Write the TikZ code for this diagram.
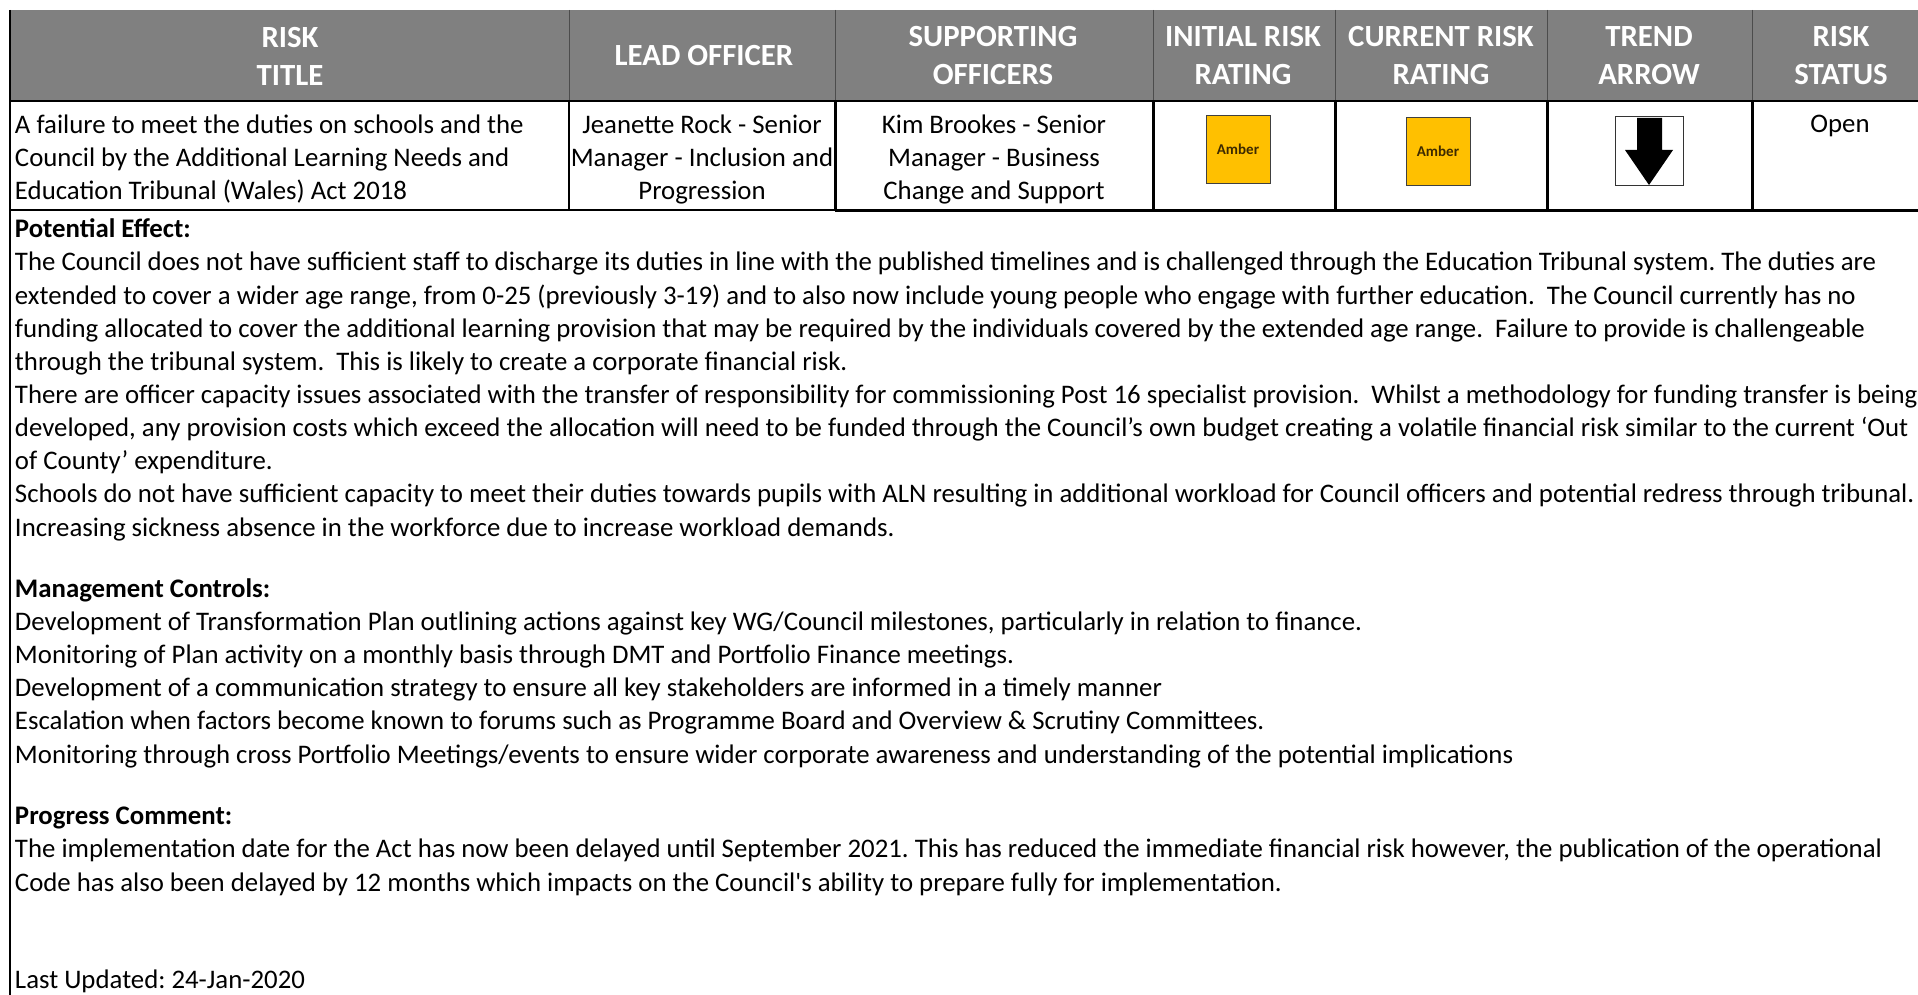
\documentclass[tikz,border=0pt]{standalone}
\usepackage{fontspec}
\setmainfont{Carlito}
\frenchspacing
\definecolor{hdrgray}{HTML}{808080}
\definecolor{amber}{HTML}{FFC000}
\definecolor{amberink}{HTML}{3D2A00}

\begin{document}
\begin{tikzpicture}[
    x=0.5pt, y=-0.5pt,
    every node/.style={inner sep=0pt, outer sep=0pt},
    hdr/.style={text=white, font=\fontsize{15.4}{19}\selectfont\bfseries, align=center},
    cell/.style={font=\fontsize{13.4}{16.57}\selectfont, anchor=base, align=center},
    bodytext/.style={font=\fontsize{13.4}{16.57}\selectfont, align=left, anchor=base west},
    rating/.style={draw=black!75, line width=0.5pt, fill=amber, minimum width=32pt, minimum height=34pt, font=\fontsize{7.5}{8}\selectfont\bfseries, text=amberink},
    thinrule/.style={line width=0.8pt},
    thickrule/.style={line width=1.5pt}
]
\useasboundingbox (0,0) rectangle (1918,995);
\fill[white] (0,0) rectangle (1918,995);

% Header band
\fill[hdrgray] (10,10) rectangle (1918,100);
\foreach \x in {569,835,1153,1335,1547,1752}
    \draw[line width=0.5pt, black!70] (\x,10) -- (\x,100);

% Header nodes
\node[hdr] (hTitle) at (290,56) {RISK\\TITLE};
\node[hdr] (hLead) at (704,56) {LEAD OFFICER};
\node[hdr] (hSupp) at (993,56) {SUPPORTING\\OFFICERS};
\node[hdr] (hInit) at (1243,56) {INITIAL RISK\\RATING};
\node[hdr] (hCurr) at (1441,56) {CURRENT RISK\\RATING};
\node[hdr] (hTrend) at (1649,56) {TREND\\ARROW};
\node[hdr] (hStatus) at (1841,56) {RISK\\STATUS};

% Row rules
\draw[line width=1.2pt] (10,101) -- (1918,101);
\draw[thinrule] (569,101) -- (569,210);
\foreach \x in {835,1153,1335,1547,1752}
    \draw[thickrule] (\x,101) -- (\x,210);
\draw[line width=1pt] (10,210) -- (835,210);
\draw[thickrule] (835,210) -- (1918,210);
\draw[thinrule] (10,10) -- (10,995);

% Row nodes (base = last line)
\node[cell, anchor=base west, align=left] (title) at (15,199.5)
    {A failure to meet the duties on schools and the\\Council by the Additional Learning Needs and\\Education Tribunal (Wales) Act 2018};
\node[cell] (lead) at (702,199.5) {Jeanette Rock - Senior\\Manager - Inclusion and\\Progression};
\node[cell] (supp) at (994,199.5) {Kim Brookes - Senior\\Manager - Business\\Change and Support};
\node[rating] (initRating) at (1238,149.5) {Amber};
\node[rating] (currRating) at (1438,151.5) {Amber};
\node[draw=black!80, line width=0.5pt, minimum width=34pt, minimum height=34.5pt] (trendBox) at (1649,151.5) {};
\fill (1637,118) -- (1662,118) -- (1662,150) -- (1673,150) -- (1649,185) -- (1625,150) -- (1637,150) -- cycle;
\node[cell] (status) at (1840,133) {Open};

% Body
\node[bodytext] (effect) at (15,536) {\textbf{Potential Effect:}\\
The Council does not have sufficient staff to discharge its duties in line with the published timelines and is challenged through the Education Tribunal system. The duties are\\
extended to cover a wider age range, from 0-25 (previously 3-19) and to also now include young people who engage with further education.~ The Council currently has no\\
funding allocated to cover the additional learning provision that may be required by the individuals covered by the extended age range.~ Failure to provide is challengeable\\
through the tribunal system.~ This is likely to create a corporate financial risk.\\
There are officer capacity issues associated with the transfer of responsibility for commissioning Post 16 specialist provision.~ Whilst a methodology for funding transfer is being\\
developed, any provision costs which exceed the allocation will need to be funded through the Council’s own budget creating a volatile financial risk similar to the current ‘Out\\
of County’ expenditure.\\
Schools do not have sufficient capacity to meet their duties towards pupils with ALN resulting in additional workload for Council officers and potential redress through tribunal.\\
Increasing sickness absence in the workforce due to increase workload demands.};
\node[bodytext] (controls) at (15,763) {\textbf{Management Controls:}\\
Development of Transformation Plan outlining actions against key WG/Council milestones, particularly in relation to finance.\\
Monitoring of Plan activity on a monthly basis through DMT and Portfolio Finance meetings.\\
Development of a communication strategy to ensure all key stakeholders are informed in a timely manner\\
Escalation when factors become known to forums such as Programme Board and Overview \& Scrutiny Committees.\\
Monitoring through cross Portfolio Meetings/events to ensure wider corporate awareness and understanding of the potential implications};
\node[bodytext] (progress) at (15,891) {\textbf{Progress Comment:}\\
The implementation date for the Act has now been delayed until September 2021. This has reduced the immediate financial risk however, the publication of the operational\\
Code has also been delayed by 12 months which impacts on the Council\textquotesingle s ability to prepare fully for implementation.};
\node[bodytext] (updated) at (15,988) {Last Updated: 24-Jan-2020};

\end{tikzpicture}
\end{document}
